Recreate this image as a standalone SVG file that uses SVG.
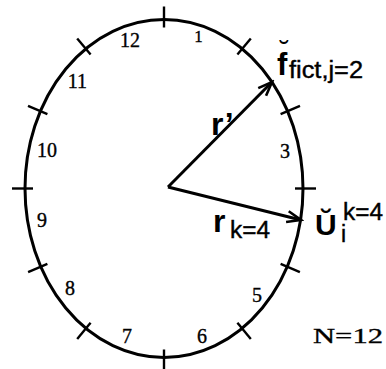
<svg xmlns="http://www.w3.org/2000/svg" width="386" height="369" viewBox="0 0 386 369">
<style>
.rim{fill:none;stroke:#000;stroke-width:3}
.tick{stroke:#000;stroke-width:2.4;fill:none}
.vec{stroke:#000;stroke-width:3;fill:none}
.num{font-family:"Liberation Serif","Times New Roman",serif;font-size:20px;fill:#000;stroke:#000;stroke-width:0.35;text-anchor:middle}
.big{font-family:"Liberation Sans",Arial,sans-serif;font-weight:bold;font-size:31px;fill:#000}
.sub{font-family:"Liberation Sans",Arial,sans-serif;font-size:23px;fill:#000;stroke:#000;stroke-width:0.4}
.brv{font-family:"Liberation Sans",Arial,sans-serif;font-size:28px;fill:#000;text-anchor:middle}
</style>
<defs>
<marker id="vee" viewBox="-16 -9 19 18" refX="0" refY="0" markerWidth="19" markerHeight="18" markerUnits="userSpaceOnUse" orient="auto">
<path d="M-14,-5.5 L0,0 L-14,5.5" fill="none" stroke="#000" stroke-width="2.6"/>
</marker>
</defs>
<rect width="386" height="369" fill="#fff"/>
<g id="clock">
<ellipse class="rim" cx="164" cy="188.5" rx="139" ry="169"/>
</g>
<g id="ticks">
<line class="tick" x1="164" y1="27.5" x2="164" y2="6.5"/>
<line class="tick" x1="237.4" y1="54.6" x2="250.8" y2="38.5"/>
<line class="tick" x1="280.6" y1="114.1" x2="300" y2="105.9"/>
<line class="tick" x1="295" y1="188.5" x2="316" y2="188.5"/>
<line class="tick" x1="280.6" y1="263.8" x2="299.9" y2="272.1"/>
<line class="tick" x1="237.4" y1="322.8" x2="250.8" y2="339"/>
<line class="tick" x1="164" y1="349.5" x2="164" y2="370"/>
<line class="tick" x1="90.6" y1="322.8" x2="77.2" y2="339"/>
<line class="tick" x1="47.4" y1="263.8" x2="28.1" y2="272.1"/>
<line class="tick" x1="33" y1="188.5" x2="12" y2="188.5"/>
<line class="tick" x1="47.4" y1="114.1" x2="28" y2="105.9"/>
<line class="tick" x1="90.6" y1="54.6" x2="77.2" y2="38.5"/>
</g>
<g id="hours">
<text class="num" x="130" y="47">12</text>
<text class="num" x="198.5" y="42" style="font-size:17px">1</text>
<text class="num" x="285" y="158">3</text>
<text class="num" x="257" y="302">5</text>
<text class="num" x="202" y="343">6</text>
<text class="num" x="127" y="343">7</text>
<text class="num" x="70" y="295">8</text>
<text class="num" x="42" y="227">9</text>
<text class="num" x="47" y="157">10</text>
<text class="num" x="77.5" y="88">11</text>
</g>
<g id="connectors">
<line id="r-prime" class="vec" x1="168" y1="187" x2="272" y2="82" marker-end="url(#vee)"/>
<line id="r-k4" class="vec" x1="168" y1="187" x2="301" y2="220" marker-end="url(#vee)"/>
</g>
<g id="label-rprime">
<text class="big" x="211" y="135" style="font-size:32px">r’</text>
</g>
<g id="label-rk4">
<text class="big" x="213" y="232" style="font-size:32px">r</text>
<text class="sub" x="230" y="238" textLength="40" lengthAdjust="spacingAndGlyphs">k=4</text>
</g>
<g id="label-f">
<text class="brv" x="284.5" y="60">˘</text>
<text class="big" x="277" y="75">f</text>
<text class="sub" x="289" y="78" textLength="74" lengthAdjust="spacingAndGlyphs">fict,j=2</text>
</g>
<g id="label-U">
<text class="big" x="315" y="235" style="font-size:30px">Ŭ</text>
<text class="sub" x="341" y="242">i</text>
<text class="sub" x="343" y="220" textLength="40" lengthAdjust="spacingAndGlyphs">k=4</text>
</g>
<g id="label-N">
<text class="num" x="313" y="343" style="text-anchor:start;font-size:22px" textLength="70" lengthAdjust="spacingAndGlyphs">N=12</text>
</g>
</svg>
